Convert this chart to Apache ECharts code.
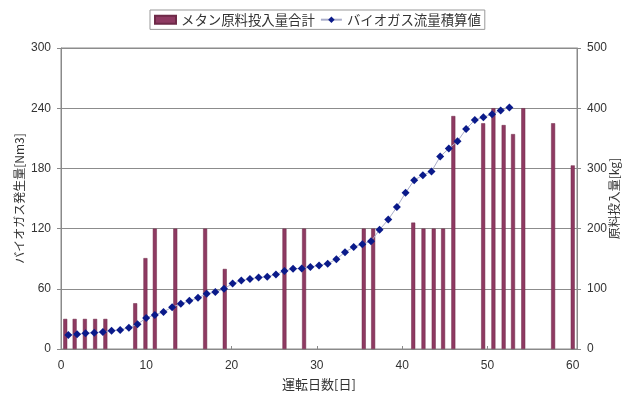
<!DOCTYPE html>
<html>
<head>
<meta charset="utf-8">
<script src="https://cdn.jsdelivr.net/npm/echarts@6/dist/echarts.min.js"></script>
<style>
  html, body { margin: 0; padding: 0; background: #fff; }
  #chart { width: 625px; height: 394px; }
</style>
</head>
<body>
<div id="chart"></div>
<script>
// Feedstock input days [day] and amounts [kg]
const feedDays = [0.5, 1.6, 2.8, 4.0, 5.2, 8.7, 9.9, 11.0, 13.4, 16.9, 19.2, 26.2, 28.5,
  35.5, 36.6, 41.3, 42.5, 43.7, 44.8, 46.0, 49.5, 50.7, 51.9, 53.0, 54.2, 57.7, 60.0];
const feedKg = [50, 50, 50, 50, 50, 76, 151, 200, 200, 200, 133, 200, 200,
  200, 200, 210, 200, 200, 200, 387, 375, 400, 372, 357, 400, 375, 305];

// Cumulative biogas flow [Nm3] by operating day
const gasDays = [0.86, 1.88, 2.88, 3.90, 4.91, 5.93, 6.94, 7.96, 8.97, 9.99, 11.00, 12.02, 13.03,
  14.05, 15.05, 16.06, 17.08, 18.09, 19.11, 20.12, 21.14, 22.15, 23.17, 24.18, 25.20, 26.20,
  27.21, 28.23, 29.24, 30.26, 31.27, 32.29, 33.30, 34.32, 35.33, 36.35, 37.35, 38.37, 39.38,
  40.40, 41.41, 42.43, 43.44, 44.46, 45.47, 46.49, 47.50, 48.52, 49.52, 50.54, 51.55, 52.57];
const gasNm3 = [14, 14.7, 15.7, 16.3, 17, 18.3, 19, 21.3, 24.7, 31, 34, 37, 41.7,
  45, 48, 51, 55, 56.7, 60, 65.3, 68.2, 69.8, 71.3, 72, 74.3, 77.7,
  80, 80.3, 81.7, 83.3, 85, 89.5, 96.5, 101.7, 104.5, 107.3, 118.8, 129, 141.5,
  155.7, 168.3, 173.2, 177, 191.8, 199.8, 207, 219.2, 228.2, 231, 234, 237.8, 240.7];

// Axis tick settings
const xTicks = { min: 0, max: 60.5, interval: 10 };
const leftTicks = { min: 0, max: 300, interval: 60 };
const rightTicks = { min: 0, max: 500, interval: 100 };

const seriesNames = ['メタン原料投入量合計', 'バイオガス流量積算値'];

const numFont = 'Liberation Sans, Arial, sans-serif';
const jpFont = 'Noto Sans CJK JP, sans-serif';
const textColor = '#333';
const axisGray = '#8a8a8a';

const chart = echarts.init(document.getElementById('chart'), null, { renderer: 'canvas' });

chart.setOption({
  backgroundColor: '#fff',
  animation: false,
  legend: {
    top: 10,
    left: 150,
    data: [
      { name: seriesNames[0], icon: 'rect' },
      { name: seriesNames[1] }
    ],
    itemWidth: 21,
    itemHeight: 8,
    itemGap: 5,
    padding: [3, 4, 3, 4],
    borderColor: '#999',
    borderWidth: 1,
    textStyle: { fontFamily: jpFont, fontSize: 13.4, color: textColor }
  },
  grid: {
    left: 61, right: 48, top: 48, bottom: 45,
    outerBoundsMode: 'none',
    show: true,
    borderColor: axisGray,
    borderWidth: 1
  },
  xAxis: {
    type: 'value',
    min: xTicks.min, max: xTicks.max, interval: xTicks.interval,
    name: '運転日数[日]',
    nameLocation: 'middle',
    nameGap: 29,
    nameMoveOverlap: false,
    nameTextStyle: { fontFamily: jpFont, fontSize: 13, color: textColor },
    axisLine: { show: true, lineStyle: { color: axisGray } },
    axisTick: { show: true, inside: true, length: 3, lineStyle: { color: axisGray } },
    splitLine: { show: false },
    axisLabel: {
      fontFamily: numFont, fontSize: 12, color: textColor, margin: 11,
      formatter: v => (v % 10 === 0 ? String(v) : '')
    }
  },
  yAxis: [
    {
      type: 'value',
      min: leftTicks.min, max: leftTicks.max, interval: leftTicks.interval,
      name: 'バイオガス発生量[Nm3]',
      nameLocation: 'middle',
      nameRotate: 90,
      nameGap: 36,
      nameMoveOverlap: false,
      nameTextStyle: { fontFamily: jpFont, fontSize: 12, color: textColor },
      axisLine: { show: true, lineStyle: { color: axisGray } },
      axisTick: { show: true, length: 4, lineStyle: { color: axisGray } },
      splitLine: { show: true, lineStyle: { color: '#8c8c8c', width: 1 } },
      axisLabel: { fontFamily: numFont, fontSize: 12, color: textColor, margin: 10 }
    },
    {
      type: 'value',
      position: 'right',
      min: rightTicks.min, max: rightTicks.max, interval: rightTicks.interval,
      name: '原料投入量[kg]',
      nameLocation: 'middle',
      nameRotate: 90,
      nameGap: 31,
      nameMoveOverlap: false,
      nameTextStyle: { fontFamily: jpFont, fontSize: 12, color: textColor },
      axisLine: { show: true, lineStyle: { color: axisGray } },
      axisTick: { show: true, length: 4, lineStyle: { color: axisGray } },
      splitLine: { show: false },
      axisLabel: { fontFamily: numFont, fontSize: 12, color: textColor, margin: 10 }
    }
  ],
  series: [
    {
      name: seriesNames[0],
      type: 'bar',
      yAxisIndex: 1,
      barWidth: 4,
      itemStyle: { color: '#8e3a62', borderColor: '#6e2a48', borderWidth: 0.5 },
      data: feedDays.map((d, i) => [d, feedKg[i]])
    },
    {
      name: seriesNames[1],
      type: 'line',
      yAxisIndex: 0,
      symbol: 'diamond',
      symbolSize: 8,
      lineStyle: { color: '#a9adc9', width: 1 },
      itemStyle: { color: '#0a1a8a' },
      z: 5,
      data: gasDays.map((d, i) => [d, gasNm3[i]])
    }
  ]
});
</script>
</body>
</html>
